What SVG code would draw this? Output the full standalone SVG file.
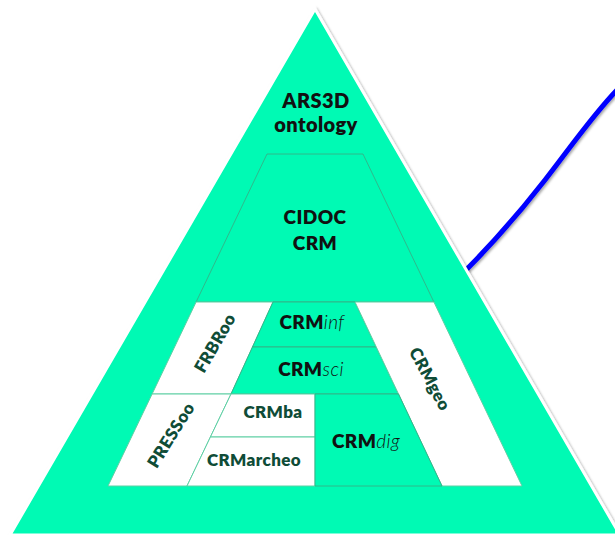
<svg xmlns="http://www.w3.org/2000/svg" width="615" height="535" viewBox="0 0 615 535">
<defs>
<filter id="sh" x="-10%" y="-10%" width="120%" height="120%">
<feDropShadow dx="1.5" dy="1.5" stdDeviation="1.2" flood-color="#000" flood-opacity="0.35"/>
</filter>
<style>
.g{fill:#00fab4;stroke:#3aa882;stroke-width:0.8}
.w{fill:#ffffff;stroke:#5fcfa4;stroke-width:1}
.t{font-family:Lato,"Liberation Sans",sans-serif;font-weight:800;fill:#111;text-anchor:middle;letter-spacing:0.4px}
.d{font-family:Lato,"Liberation Sans",sans-serif;font-weight:800;fill:#0f4c37;text-anchor:middle;letter-spacing:0.4px}
.i{font-weight:300;font-style:italic}
</style>
</defs>
<g id="connectors">
<path d="M466,270 C500,236 520,212 545,180 S592,116 617,90" fill="none" stroke="#0000ff" stroke-width="5" filter="url(#sh)"/>
</g>
<g id="ars3d">
<polygon points="315,9 10,535 620,535" fill="#00fab4" stroke="#ffffff" stroke-width="3" filter="url(#sh)"/>
<text class="t" x="316" y="108" font-size="20">ARS3D</text>
<text class="t" x="316" y="132" font-size="20">ontology</text>
</g>
<g id="cidoc">
<polygon class="g" points="267,154 363,154 433.9,302 196.1,302"/>
<text class="t" x="315" y="224" font-size="19">CIDOC</text>
<text class="t" x="315" y="250" font-size="19">CRM</text>
</g>
<g id="frbroo">
<polygon class="w" points="196.1,302 273,302 231,394 152.1,394"/>
<text class="d" x="215" y="349" font-size="17" transform="rotate(-60 215 343)">FRBRoo</text>
</g>
<g id="crminf">
<polygon class="g" points="273,302 355,302 376.3,347 252.5,347"/>
<text class="t" x="312" y="329" font-size="19">CRM<tspan class="i">inf</tspan></text>
</g>
<g id="crmsci">
<polygon class="g" points="252.5,347 376.3,347 398.5,394 231,394"/>
<text class="t" x="311" y="376" font-size="19">CRM<tspan class="i">sci</tspan></text>
</g>
<g id="crmgeo">
<polygon class="w" points="355,302 433.9,302 522,486 442,486"/>
<text class="d" x="430" y="385" font-size="17" transform="rotate(62 430 379)">CRMgeo</text>
</g>
<g id="pressoo">
<polygon class="w" points="152.1,394 231,394 187,486 108,486"/>
<text class="d" x="171" y="441" font-size="17" transform="rotate(-58 171 435)">PRESSoo</text>
</g>
<g id="crmba">
<polygon class="w" points="231,394 315,394 315,437 210.4,437"/>
<text class="d" x="273" y="418" font-size="17">CRMba</text>
</g>
<g id="crmarcheo">
<polygon class="w" points="210.4,437 315,437 315,486 187,486"/>
<text class="d" x="254" y="466" font-size="17">CRMarcheo</text>
</g>
<g id="crmdig">
<polygon class="g" points="315,394 398.5,394 442,486 315,486"/>
<text class="t" x="366" y="448" font-size="19">CRM<tspan class="i">dig</tspan></text>
</g>
</svg>
